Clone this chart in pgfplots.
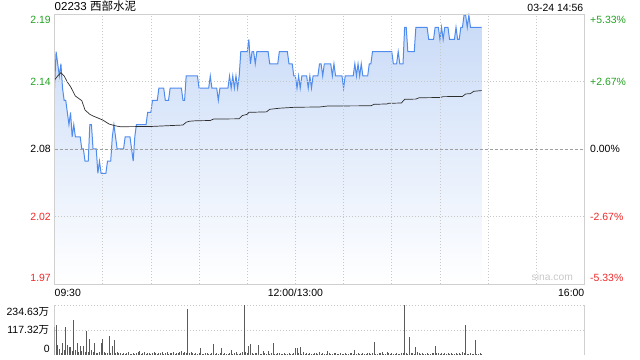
\documentclass[border=0pt]{standalone}
\usepackage{pgfplots}
\pgfplotsset{compat=1.18}
\usepackage{pgfplotstable}
\usepackage{fontspec}
\setmainfont{Liberation Sans}
\newfontfamily\cjk{Noto Sans CJK SC}
\definecolor{gridc}{RGB}{200,200,200}
\definecolor{borderc}{RGB}{208,208,208}
\definecolor{upg}{RGB}{34,163,34}
\definecolor{downr}{RGB}{238,40,40}
\definecolor{lineb}{RGB}{80,140,238}
\definecolor{fillb}{RGB}{200,218,247}
\definecolor{volc}{RGB}{90,90,90}
\definecolor{vwapc}{RGB}{45,45,45}
\definecolor{wm}{RGB}{200,200,200}

\pgfplotstableread{
m p
0 2.13
1 2.16
2 2.15
3 2.14
4 2.15
5 2.13
6 2.12
7 2.12
8 2.11
9 2.10
10 2.11
11 2.09
12 2.10
13 2.09
16 2.09
17 2.08
18 2.08
19 2.07
21 2.07
22 2.10
23 2.10
24 2.08
26 2.08
27 2.06
28 2.07
29 2.06
32 2.06
33 2.07
35 2.07
36 2.09
37 2.10
38 2.09
39 2.08
43 2.08
44 2.09
47 2.09
49 2.07
50 2.09
51 2.10
57 2.10
58 2.11
60 2.11
61 2.12
64 2.12
65 2.13
68 2.13
69 2.12
71 2.12
72 2.13
79 2.13
80 2.12
81 2.12
82 2.14
89 2.14
90 2.13
96 2.13
97 2.14
98 2.13
101 2.13
102 2.12
103 2.13
108 2.13
109 2.14
110 2.13
111 2.14
112 2.13
113 2.14
114 2.13
115 2.14
116 2.16
120 2.16
121 2.17
122 2.15
123 2.16
124 2.16
125 2.15
126 2.16
133 2.16
134 2.15
139 2.15
140 2.16
145 2.16
146 2.15
148 2.15
149 2.14
150 2.14
151 2.13
152 2.14
153 2.13
154 2.14
157 2.14
158 2.13
159 2.14
160 2.13
161 2.14
164 2.14
165 2.15
166 2.15
167 2.14
168 2.15
172 2.15
173 2.14
174 2.15
175 2.14
179 2.14
180 2.13
181 2.14
186 2.14
187 2.15
188 2.14
189 2.15
190 2.14
191 2.15
192 2.14
195 2.14
196 2.15
197 2.15
198 2.16
210 2.16
211 2.15
213 2.15
214 2.16
215 2.15
217 2.15
218 2.18
219 2.18
220 2.16
224 2.16
225 2.18
232 2.18
233 2.17
236 2.17
237 2.18
239 2.18
240 2.17
241 2.18
242 2.17
243 2.18
245 2.18
246 2.17
249 2.17
250 2.18
251 2.17
252 2.17
253 2.18
254 2.18
255 2.19
256 2.19
257 2.18
258 2.19
259 2.18
266 2.18
}\price

\pgfplotstableread{
m p
0 2.1367
2 2.1400
4 2.1427
6 2.1400
8 2.1350
10 2.1312
13 2.1235
17 2.1197
19 2.1120
22 2.1085
24 2.1071
27 2.1055
30 2.1038
34 2.1005
38 2.0990
41 2.0983
60 2.0985
80 2.0997
82 2.1020
84 2.1028
88 2.1032
97 2.1034
99 2.1046
115 2.1048
117 2.1075
120 2.1085
121 2.1101
132 2.1105
134 2.1126
140 2.1135
150 2.1143
165 2.1145
170 2.1153
197 2.1155
199 2.1167
207 2.1170
208 2.1175
216 2.1178
218 2.1208
225 2.1210
227 2.1221
240 2.1223
242 2.1230
254 2.1232
256 2.1252
259 2.1255
261 2.1274
266 2.1280
}\vwap

\pgfplotstableread{
m v
0 130
1 141
2 47
3 27
4 10
5 58
6 25
7 133
8 47
9 39
10 39
11 20
12 164
13 25
14 58
15 16
16 42
17 20
18 42
19 12
20 114
21 16
22 75
23 25
24 16
25 58
26 10
27 10
28 12
29 58
30 75
31 16
32 10
33 8
34 89
35 10
36 42
37 69
38 10
39 15
40 8
41 10
42 5
43 10
44 6
45 8
46 15
47 5
48 6
49 10
50 4
51 8
52 15
53 20
54 6
55 8
56 15
57 5
58 10
59 8
60 6
61 10
62 15
63 8
64 5
65 10
66 8
67 15
68 6
69 8
70 12
71 5
72 8
73 10
74 15
75 6
76 8
77 10
78 15
79 20
80 8
81 15
82 10
83 214
84 10
85 15
86 8
87 6
88 10
89 5
90 8
91 31
92 5
93 6
94 8
95 10
96 6
97 5
98 8
99 52
100 6
101 8
102 5
103 10
104 31
105 6
106 8
107 5
108 6
109 8
110 23
111 5
112 8
113 15
114 6
115 5
116 8
117 15
118 234.6
119 15
120 10
121 42
122 52
123 8
124 6
125 10
126 8
127 47
128 6
129 5
130 20
131 8
132 6
133 18
134 5
135 8
136 58
137 6
138 5
139 8
140 10
141 6
142 5
143 8
144 6
145 5
146 8
147 6
148 5
149 10
150 31
151 35
152 8
153 38
154 6
155 16
156 5
157 8
158 6
159 8
160 5
161 6
162 8
163 10
164 5
165 15
166 6
167 8
168 5
169 6
170 20
171 8
172 5
173 6
174 8
175 10
176 5
177 6
178 8
179 5
180 6
181 8
182 5
183 6
184 8
185 10
186 5
187 25
188 6
189 8
190 5
191 6
192 8
193 5
194 6
195 8
196 10
197 5
198 8
199 62
200 6
201 5
202 8
203 10
204 15
205 6
206 5
207 15
208 8
209 6
210 10
211 5
212 6
213 8
214 5
215 6
216 8
217 10
218 234.6
219 8
220 6
221 83
222 10
223 8
224 6
225 39
226 15
227 8
228 6
229 8
230 5
231 6
232 8
233 6
234 5
235 8
236 10
237 42
238 8
239 10
240 6
241 8
242 5
243 8
244 6
245 10
246 5
247 8
248 6
249 5
250 8
251 6
252 10
253 5
254 15
255 8
256 141
257 6
258 5
259 8
260 6
261 5
262 70
263 6
264 5
265 8
266 6
}\vol

\begin{document}
\begin{tikzpicture}[font=\fontsize{10.5}{12}\selectfont]
\useasboundingbox (0,0) rectangle (640bp,360bp);
\begin{axis}[
  at={(54.5bp,76bp)}, anchor=south west,
  scale only axis, width=530bp, height=270bp,
  xmin=0, xmax=330, ymin=1.9691, ymax=2.1909,
  xtick={30,60,...,300}, xticklabels={},
  ytick={2.0245,2.1355}, yticklabels={},
  extra y ticks={2.08}, extra y tick labels={},
  extra y tick style={grid=major, major grid style={draw=gray!75, dash pattern=on 3bp off 2bp, line width=0.6bp}},
  grid=major,
  major grid style={draw=gridc, dash pattern=on 1bp off 2bp, line width=0.7bp},
  tick style={draw=none},
  axis line style={draw=borderc, line width=0.8bp},
  axis on top,
  clip mode=individual,
]
\addplot[draw=none, top color=fillb, bottom color=white] table[x=m, y=p]{\price} -- (axis cs:266,1.9691) -- (axis cs:0,1.9691) -- cycle;
\addplot[color=lineb, line width=1bp, no marks] table[x=m, y=p]{\price};
\addplot[color=vwapc, line width=0.7bp, no marks] table[x=m, y=p]{\vwap};
% left labels
\node[anchor=east, inner sep=0, text=upg, xshift=-3.5bp, yshift=-6bp] at (axis cs:0,2.1909) {2.19};
\node[anchor=east, inner sep=0, text=upg, xshift=-3.5bp] at (axis cs:0,2.1355) {2.14};
\node[anchor=east, inner sep=0, text=black, xshift=-3.5bp] at (axis cs:0,2.08) {2.08};
\node[anchor=east, inner sep=0, text=downr, xshift=-3.5bp] at (axis cs:0,2.0245) {2.02};
\node[anchor=east, inner sep=0, text=downr, xshift=-3.5bp, yshift=6bp] at (axis cs:0,1.9691) {1.97};
% right labels
\node[anchor=west, inner sep=0, text=upg, xshift=5.5bp, yshift=-6bp] at (axis cs:330,2.1909) {+5.33\%};
\node[anchor=west, inner sep=0, text=upg, xshift=5.5bp] at (axis cs:330,2.1355) {+2.67\%};
\node[anchor=west, inner sep=0, text=black, xshift=5.5bp] at (axis cs:330,2.08) {0.00\%};
\node[anchor=west, inner sep=0, text=downr, xshift=5.5bp] at (axis cs:330,2.0245) {-2.67\%};
\node[anchor=west, inner sep=0, text=downr, xshift=5.5bp, yshift=6bp] at (axis cs:330,1.9691) {-5.33\%};
% time labels
\node[anchor=base west, inner sep=0, yshift=-12.8bp] at (axis cs:0,1.9691) {09:30};
\node[anchor=base, inner sep=0, yshift=-12.8bp] at (axis cs:150,1.9691) {12:00/13:00};
\node[anchor=base east, inner sep=0, yshift=-12.8bp] at (axis cs:330,1.9691) {16:00};
% title and date
\node[anchor=base west, inner sep=0, yshift=3bp, font=\fontsize{11.6}{13}\selectfont] at (rel axis cs:0,1) {02233 {\cjk 西部水泥}};
\node[anchor=base east, inner sep=0, yshift=2.5bp, xshift=-1bp] at (rel axis cs:1,1) {03-24 14:56};
% watermark
\node[anchor=base east, inner sep=0, text=wm, xshift=-11.5bp, yshift=3bp, font=\fontsize{10.3}{12}\selectfont] at (rel axis cs:1,0) {sina.com};
\end{axis}

\begin{axis}[
  at={(54.5bp,5bp)}, anchor=south west,
  scale only axis, width=530bp, height=50bp,
  xmin=0, xmax=330, ymin=0, ymax=234.63,
  xtick=\empty,
  ytick={117.32,234.63}, yticklabels={},
  ymajorgrids,
  major grid style={draw=gridc, dash pattern=on 1bp off 2bp, line width=0.7bp},
  extra x ticks={0,330}, extra x tick labels={},
  extra x tick style={grid=major, major grid style={draw=borderc, solid, line width=0.8bp}},
  tick style={draw=none},
  axis line style={draw=none},
  clip mode=individual,
]
\addplot[ycomb, draw=volc, line width=0.8bp, no marks] table[x=m, y=v]{\vol};
\node[anchor=east, inner sep=0, xshift=-5.2bp, yshift=-7bp] at (axis cs:0,234.63) {234.63{\cjk 万}};
\node[anchor=east, inner sep=0, xshift=-5.2bp] at (axis cs:0,117.32) {117.32{\cjk 万}};
\node[anchor=east, inner sep=0, xshift=-4.5bp, yshift=6bp] at (axis cs:0,0) {0};
\end{axis}
\end{tikzpicture}
\end{document}
